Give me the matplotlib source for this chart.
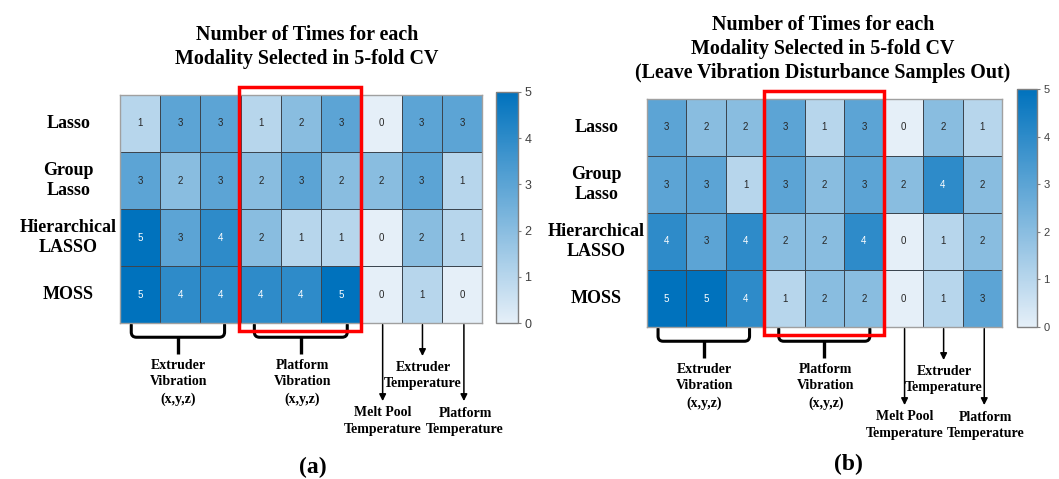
import numpy as np
import matplotlib
matplotlib.use("Agg")
import matplotlib.pyplot as plt
from matplotlib.colors import LinearSegmentedColormap
from matplotlib.patches import Rectangle, PathPatch
from matplotlib.path import Path

# selection counts, rows = methods, cols = modality channels
methods = ["Lasso", "Group\nLasso", "Hierarchical\nLASSO", "MOSS"]
counts_all = [
    [1, 3, 3, 1, 2, 3, 0, 3, 3],
    [3, 2, 3, 2, 3, 2, 2, 3, 1],
    [5, 3, 4, 2, 1, 1, 0, 2, 1],
    [5, 4, 4, 4, 4, 5, 0, 1, 0],
]
counts_no_vib = [
    [3, 2, 2, 3, 1, 3, 0, 2, 1],
    [3, 3, 1, 3, 2, 3, 2, 4, 2],
    [4, 3, 4, 2, 2, 4, 0, 1, 2],
    [5, 5, 4, 1, 2, 2, 0, 1, 3],
]
cbar_ticks = [0, 1, 2, 3, 4, 5]

title_a = "Number of Times for each\nModality Selected in 5-fold CV"
title_b = ("Number of Times for each\nModality Selected in 5-fold CV\n"
           "(Leave Vibration Disturbance Samples Out)")

W, H = 1059, 479
SERIF = ["Liberation Serif", "DejaVu Serif"]
SANS = ["Liberation Sans", "DejaVu Sans"]

cmap = LinearSegmentedColormap.from_list("mblue", ["#e5eff8", "#0072bd"])

fig = plt.figure(figsize=(W / 100, H / 100), dpi=100)


def px_rect(x0, y0, x1, y1):
    # pixel box (top-left origin) -> figure fraction rect
    return [x0 / W, 1 - y1 / H, (x1 - x0) / W, (y1 - y0) / H]


def brace(ax, x0, x1, ytop, yh, ystem):
    rx, ry = 0.13, 0.09
    verts = [(x0, ytop), (x0, yh - ry), (x0, yh), (x0 + rx, yh),
             (x1 - rx, yh), (x1, yh), (x1, yh - ry), (x1, ytop)]
    codes = [Path.MOVETO, Path.LINETO, Path.CURVE3, Path.CURVE3,
             Path.LINETO, Path.CURVE3, Path.CURVE3, Path.LINETO]
    ax.add_patch(PathPatch(Path(verts, codes), fill=False, lw=2.2,
                           edgecolor="black", clip_on=False,
                           capstyle="round", joinstyle="round"))
    xm = (x0 + x1) / 2
    ax.plot([xm, xm], [yh, ystem], color="black", lw=2.4,
            clip_on=False, solid_capstyle="butt")


def arrow(ax, x, y0, y1):
    ax.annotate("", xy=(x, y1), xytext=(x, y0), annotation_clip=False,
                arrowprops=dict(arrowstyle="-|>", lw=1.1, color="black",
                                mutation_scale=10, shrinkA=0, shrinkB=0))


def panel(vals, heat_px, cbar_px, cbar_fs):
    data = np.array(vals)
    ax = fig.add_axes(px_rect(*heat_px))
    mesh = ax.pcolormesh(data, cmap=cmap, vmin=0, vmax=5,
                         edgecolors="#3c4650", linewidth=0.6)
    ax.set_xlim(0, data.shape[1])
    ax.set_ylim(data.shape[0], 0)
    ax.set_xticks([])
    ax.set_yticks([])
    for s in ax.spines.values():
        s.set_color("#a0a0a0")
        s.set_linewidth(1.0)

    for i in range(data.shape[0]):
        for j in range(data.shape[1]):
            v = data[i, j]
            ax.text(j + 0.5, i + 0.5, str(v), ha="center", va="center",
                    fontsize=7, family=SANS,
                    color="white" if v >= 4 else "#262626")

    for i, name in enumerate(methods):
        ax.text(-1.28, i + 0.5, name, ha="center", va="center",
                fontsize=13, fontweight="bold", family=SERIF,
                linespacing=1.3)

    # vibration block highlight
    ax.add_patch(Rectangle((2.97, -0.14), 3.03, 4.28, fill=False,
                           edgecolor="#ff0000", lw=2.5, clip_on=False,
                           zorder=5))

    brace(ax, 0.28, 2.6, 4.03, 4.25, 4.55)
    brace(ax, 3.34, 5.65, 4.03, 4.25, 4.55)
    arrow(ax, 6.53, 4.03, 5.37)
    arrow(ax, 7.52, 4.03, 4.58)
    arrow(ax, 8.55, 4.03, 5.37)

    lab = dict(ha="center", va="center", fontsize=10, fontweight="bold",
               family=SERIF, linespacing=1.35)
    ax.text(1.45, 5.04, "Extruder\nVibration\n(x,y,z)", **lab)
    ax.text(4.53, 5.04, "Platform\nVibration\n(x,y,z)", **lab)
    ax.text(7.53, 4.92, "Extruder\nTemperature", **lab)
    ax.text(6.53, 5.72, "Melt Pool\nTemperature", **lab)
    ax.text(8.58, 5.73, "Platform\nTemperature", **lab)

    cax = fig.add_axes(px_rect(*cbar_px))
    cb = fig.colorbar(mesh, cax=cax, ticks=cbar_ticks)
    cb.outline.set_edgecolor("#808080")
    cb.outline.set_linewidth(1.0)
    cax.tick_params(direction="out", length=2.5, width=0.8, colors="#808080",
                    labelcolor="#404040", labelsize=cbar_fs, pad=2)
    for t in cax.get_yticklabels():
        t.set_family(SANS)
    return ax


panel(counts_all, (120, 95, 482, 323), (496, 92, 518, 323), 9)
panel(counts_no_vib, (647, 99, 1002, 327), (1017, 89, 1037, 327), 8)

tkw = dict(ha="center", va="center", fontsize=14.4, fontweight="bold",
           family=SERIF, linespacing=1.25)
fig.text(307 / W, 1 - 47 / H, title_a, **tkw)
fig.text(823 / W, 1 - 49 / H, title_b, **tkw)

fig.text(313 / W, 1 - 467 / H, "(a)", ha="center", va="center",
         fontsize=17, fontweight="bold", family=SERIF)
fig.text(848 / W, 1 - 464 / H, "(b)", ha="center", va="center",
         fontsize=17, fontweight="bold", family=SERIF)

fig.savefig("out.png", dpi=100, facecolor="white")
